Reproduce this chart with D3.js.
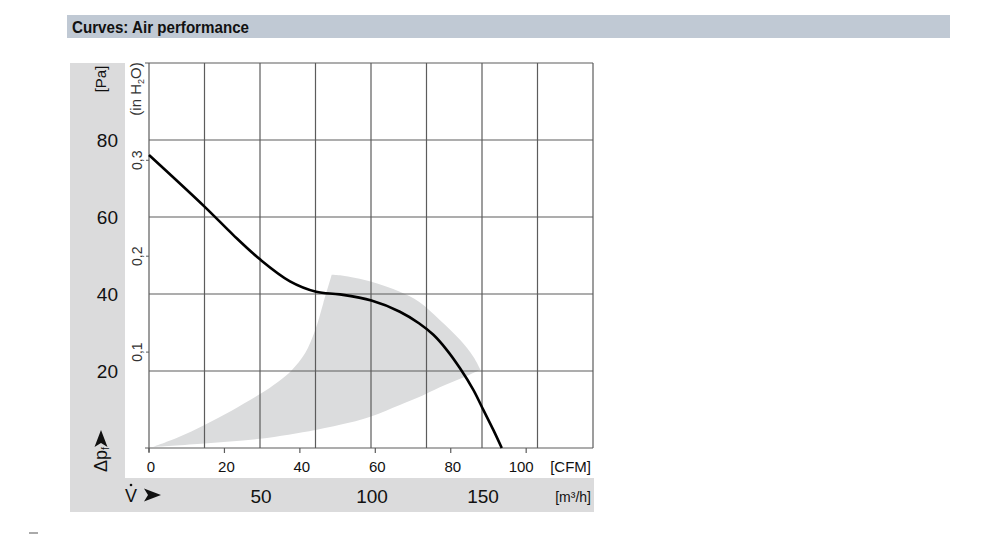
<!DOCTYPE html>
<html>
<head>
<meta charset="utf-8">
<script src="https://cdn.jsdelivr.net/npm/d3@7"></script>
<style>
  body { margin: 0; background: #fff; }
  svg { display: block; font-family: "Liberation Sans", Arial, Helvetica, sans-serif; }
</style>
</head>
<body>
<div id="grafica"></div>
<script>
// Datos (caudal en m3/h, presion en Pa)
var curveFlow = [0, 25, 38, 50, 63.5, 75.3, 86, 100.2, 113, 121.6, 128.1, 134.1, 140.1, 146.1, 150.6, 155.1, 158.9];
var curvePressure = [76.1, 62.7, 55.3, 49, 43.3, 40.6, 39.9, 38.3, 35.4, 32.4, 29.4, 25.5, 20.7, 15.1, 9.9, 4.7, 0];

// Zona gris (rango de funcionamiento recomendado)
var shadeLowerFlow = [1.9, 25, 50, 75, 90.5, 100, 113, 122, 131, 141.6, 149.3];
var shadeLowerPa = [0.3, 1.2, 2.4, 4.7, 6.6, 8.2, 11.2, 13.3, 15.8, 18.3, 20.3];
var shadeUpperFlow = [149.3, 146.1, 140.1, 131.1, 121.6, 113, 100.2, 86.8, 82.3];
var shadeUpperPa = [20.3, 23.7, 28.1, 33.2, 38, 40.6, 43.2, 44.8, 45];
var shadeLeftFlow = [82.3, 78.5, 74.8, 70.3, 64.3, 58.2, 50, 37.2, 25, 13.2, 1.9];
var shadeLeftPa = [45, 37.6, 30.5, 24.6, 20.2, 17.2, 14.0, 9.7, 6.0, 2.8, 0.3];

// Etiquetas de los ejes
var paTicks = [20, 40, 60, 80];
var inchTicks = [0.1, 0.2, 0.3];
var inchLabels = ["0,1", "0,2", "0,3"];
var cfmTicks = [0, 20, 40, 60, 80, 100];
var m3hLabels = [50, 100, 150];
var gridFlow = [0, 25, 50, 75, 100, 125, 150, 175, 200];
var gridPa = [0, 20, 40, 60, 80, 100];

var width = 1000, height = 536;

var svg = d3.select("#grafica")
  .append("svg")
  .attr("width", width)
  .attr("height", height);

// escalas
var x = d3.scaleLinear().domain([0, 200]).range([149, 593]);
var y = d3.scaleLinear().domain([0, 100]).range([448, 63]);
var CFM_TO_M3H = 1.699;
var PA_PER_INCH = 249.09;

// Barra de titulo
svg.append("rect")
  .attr("x", 67).attr("y", 15)
  .attr("width", 883).attr("height", 23)
  .style("fill", "#c0c9d4");
svg.append("text")
  .attr("x", 72).attr("y", 33)
  .attr("textLength", 177)
  .attr("lengthAdjust", "spacingAndGlyphs")
  .style("font-family", "'Liberation Sans Narrow', 'Arial Narrow', 'Liberation Sans', Arial, sans-serif")
  .style("font-size", "17px")
  .style("font-weight", "bold")
  .style("fill", "#111")
  .text("Curves: Air performance");

// paneles grises
svg.append("rect")
  .attr("x", 70).attr("y", 63)
  .attr("width", 55).attr("height", 449)
  .style("fill", "#dbdbdc");
svg.append("rect")
  .attr("x", 70).attr("y", 478)
  .attr("width", 524).attr("height", 34)
  .style("fill", "#dbdbdc");

// Zona sombreada
function seg(fx, fy) {
  var pts = fx.map(function (d, i) { return [x(d), y(fy[i])]; });
  return d3.line().curve(d3.curveCatmullRom.alpha(0.5))(pts);
}
var shadePath = seg(shadeLowerFlow, shadeLowerPa) +
  seg(shadeUpperFlow, shadeUpperPa).replace(/^M/, "L") +
  seg(shadeLeftFlow, shadeLeftPa).replace(/^M/, "L") + "Z";
svg.append("path")
  .attr("d", shadePath)
  .style("fill", "#dbdcdd")
  .style("stroke", "none");

// rejilla
svg.append("g")
  .selectAll("line")
  .data(gridFlow)
  .enter()
  .append("line")
  .attr("x1", function (d) { return x(d); })
  .attr("x2", function (d) { return x(d); })
  .attr("y1", y(100))
  .attr("y2", function (d) { return d === 0 ? y(0) + 4 : y(0); })
  .style("stroke", "#5c5c5c")
  .style("stroke-width", 1.2);
svg.append("g")
  .selectAll("line")
  .data(gridPa)
  .enter()
  .append("line")
  .attr("x1", function (d) { return (d === 0 || d === 100) ? x(0) - 4 : x(0); })
  .attr("x2", x(200))
  .attr("y1", function (d) { return y(d); })
  .attr("y2", function (d) { return y(d); })
  .style("stroke", "#5c5c5c")
  .style("stroke-width", 1.2);

// ticks CFM bajo el eje
svg.append("g")
  .selectAll("line")
  .data(cfmTicks)
  .enter()
  .append("line")
  .attr("x1", function (d) { return x(d * CFM_TO_M3H); })
  .attr("x2", function (d) { return x(d * CFM_TO_M3H); })
  .attr("y1", y(0))
  .attr("y2", y(0) + 5)
  .style("stroke", "#5c5c5c")
  .style("stroke-width", 1.2);

// ticks in H2O
svg.append("g")
  .selectAll("line")
  .data(inchTicks)
  .enter()
  .append("line")
  .attr("x1", x(0) - 3)
  .attr("x2", x(0))
  .attr("y1", function (d) { return y(d * PA_PER_INCH); })
  .attr("y2", function (d) { return y(d * PA_PER_INCH); })
  .style("stroke", "#5c5c5c")
  .style("stroke-width", 1);

// Curva
var curvePts = curveFlow.map(function (d, i) { return [x(d), y(curvePressure[i])]; });
svg.append("path")
  .attr("d", d3.line().curve(d3.curveCatmullRom.alpha(0.5))(curvePts))
  .style("fill", "none")
  .style("stroke", "#000")
  .style("stroke-width", 2.6);

// Etiquetas Pa
svg.append("g")
  .selectAll("text")
  .data(paTicks)
  .enter()
  .append("text")
  .attr("x", 118)
  .attr("y", function (d) { return y(d) + 7; })
  .attr("text-anchor", "end")
  .style("font-size", "19px")
  .style("fill", "#111")
  .text(function (d) { return d; });

svg.append("text")
  .attr("transform", "translate(106,79) rotate(-90)")
  .attr("text-anchor", "middle")
  .style("font-size", "15px")
  .style("fill", "#111")
  .text("[Pa]");

// Etiquetas in H2O
svg.append("g")
  .selectAll("text")
  .data(inchTicks)
  .enter()
  .append("text")
  .attr("transform", function (d) { return "translate(142," + y(d * PA_PER_INCH) + ") rotate(-90)"; })
  .attr("text-anchor", "middle")
  .style("font-size", "14px")
  .style("fill", "#333")
  .text(function (d, i) { return inchLabels[i]; });

var inch = svg.append("text")
  .attr("transform", "translate(141,89) rotate(-90)")
  .attr("text-anchor", "middle")
  .style("font-size", "15px")
  .style("fill", "#333");
inch.append("tspan").text("(in H");
inch.append("tspan").attr("dy", 3).style("font-size", "9px").text("2");
inch.append("tspan").attr("dy", -3).text("O)");

// Δpf con flecha
var dp = svg.append("text")
  .attr("transform", "translate(107,472) rotate(-90)")
  .style("font-size", "18px")
  .style("fill", "#111");
dp.append("tspan").text("Δp");
dp.append("tspan").attr("dy", 2).style("font-size", "10px").text("f");

var arrowShape = "M0,-6.5 L17,0 L0,6.5 L4,0 Z";
svg.append("path")
  .attr("transform", "translate(101,447) rotate(-90)")
  .attr("d", arrowShape)
  .style("fill", "#111");

// Etiquetas CFM
svg.append("g")
  .selectAll("text")
  .data(cfmTicks)
  .enter()
  .append("text")
  .attr("x", function (d) { return x(d * CFM_TO_M3H) + (d === 100 ? -5 : 2); })
  .attr("y", 472)
  .attr("text-anchor", "middle")
  .style("font-size", "15px")
  .style("fill", "#111")
  .text(function (d) { return d; });
svg.append("text")
  .attr("x", 591).attr("y", 472)
  .attr("text-anchor", "end")
  .style("font-size", "15px")
  .style("fill", "#111")
  .text("[CFM]");

// Etiquetas m3/h
svg.append("g")
  .selectAll("text")
  .data(m3hLabels)
  .enter()
  .append("text")
  .attr("x", function (d) { return x(d) + 1; })
  .attr("y", 503)
  .attr("text-anchor", "middle")
  .style("font-size", "19px")
  .style("fill", "#111")
  .text(function (d) { return d; });
svg.append("text")
  .attr("x", 591).attr("y", 502)
  .attr("text-anchor", "end")
  .style("font-size", "14px")
  .style("fill", "#111")
  .text("[m³/h]");

// V con punto y flecha
svg.append("text")
  .attr("x", 131).attr("y", 502)
  .attr("text-anchor", "middle")
  .style("font-size", "18px")
  .style("fill", "#111")
  .text("V");
svg.append("circle")
  .attr("cx", 131).attr("cy", 485)
  .attr("r", 1.3)
  .style("fill", "#111");
svg.append("path")
  .attr("transform", "translate(144,495)")
  .attr("d", arrowShape)
  .style("fill", "#111");

// marca pequeña abajo a la izquierda
svg.append("rect")
  .attr("x", 29).attr("y", 532)
  .attr("width", 9).attr("height", 2)
  .style("fill", "#aaa");
</script>
</body>
</html>
